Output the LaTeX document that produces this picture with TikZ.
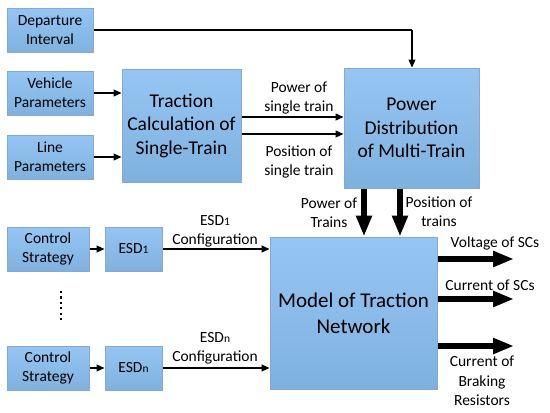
\documentclass[tikz,border=0pt]{standalone}
\usepackage{fontspec}
\setmainfont{Carlito}
\usetikzlibrary{arrows.meta}
\definecolor{boxtop}{HTML}{95C5F3}
\definecolor{boxbot}{HTML}{7FB1DF}
\definecolor{boxline}{HTML}{86A8D3}
\newcommand{\smallfont}{\fontsize{15.5}{19}\selectfont}
\newcommand{\bigfont}{\fontsize{19.5}{23.5}\selectfont}
\newcommand{\hugefont}{\fontsize{21}{26}\selectfont}
\newcommand{\subn}[1]{{\fontsize{11.5}{12}\selectfont #1}}
\tikzset{
  blockbox/.style={draw=boxline, line width=1pt, top color=boxtop, bottom color=boxbot,
    align=center, inner sep=0pt, font=\smallfont},
  thin arrow/.style={line width=1.1pt, -{Triangle[width=7pt,length=8pt]}},
  thick arrow/.style={line width=5.5pt, -{Triangle[width=15pt,length=21pt]}},
  lbl/.style={align=center, font=\smallfont, inner sep=0pt},
}
\begin{document}
\begin{tikzpicture}[x=1pt,y=-1pt]
\useasboundingbox (0,0) rectangle (550,413);
% boxes
\node[blockbox, minimum width=86pt, minimum height=44pt] (dep) at (50,30) {Departure\\Interval};
\node[blockbox, minimum width=86pt, minimum height=44pt] (veh) at (50,93) {Vehicle\\Parameters};
\node[blockbox, minimum width=86pt, minimum height=44pt] (lin) at (50,157) {Line\\Parameters};
\node[blockbox, minimum width=119pt, minimum height=113pt, font=\bigfont] (trac) at (181.5,125.5) {Traction\\Calculation of\\Single-Train};
\node[blockbox, minimum width=135pt, minimum height=120pt, font=\bigfont] (pdist) at (411.5,128) {Power\\Distribution\\of Multi-Train};
\node[blockbox, minimum width=82pt, minimum height=44pt] (cs1) at (48,249) {Control\\Strategy};
\node[blockbox, minimum width=57pt, minimum height=44pt] (esd1) at (133.5,249) {ESD\subn{1}};
\node[blockbox, minimum width=82pt, minimum height=44pt] (csn) at (48,368) {Control\\Strategy};
\node[blockbox, minimum width=57pt, minimum height=44pt] (esdn) at (133.5,368) {ESD\subn{n}};
\node[blockbox, minimum width=167pt, minimum height=152pt, font=\hugefont] (model) at (353.5,313) {Model of Traction\\Network};
% departure line
\coordinate (bend) at (412,30);
\draw[line width=1.1pt] (dep.east) -- (bend);
\draw[thin arrow] (bend) -- (bend |- pdist.north);
% inputs to traction
\draw[thin arrow] (veh.east) -- (veh.east -| trac.west);
\draw[thin arrow] (lin.east) -- (lin.east -| trac.west);
% traction to power distribution
\draw[thin arrow] (trac.east |- 0,117) -- (pdist.west |- 0,117);
\draw[thin arrow] (trac.east |- 0,134) -- (pdist.west |- 0,134);
\node[lbl] (l1) at (299,98) {Power of\\single train};
\node[lbl] (l2) at (299,162) {Position of\\single train};
% thick down arrows
\draw[thick arrow] (pdist.south -| 364,0) -- (model.north -| 364,0);
\draw[thick arrow] (pdist.south -| 400,0) -- (model.north -| 400,0);
\node[lbl] (l3) at (329,213) {Power of\\Trains};
\node[lbl] (l4) at (439,212) {Position of\\trains};
% ESD branches
\draw[thin arrow] (cs1.east) -- (esd1.west);
\draw[thin arrow] (esd1.east) -- (esd1.east -| model.west);
\node[lbl] (l5) at (215,231) {ESD\subn{1}\\Configuration};
\draw[thin arrow] (csn.east) -- (esdn.west);
\draw[thin arrow] (esdn.east) -- (esdn.east -| model.west);
\node[lbl] (l6) at (215,348.5) {ESD\subn{n}\\Configuration};
% dots
\foreach \i in {0,...,5} {
  \fill (60,{291+\i*5.4}) rectangle (62.2,{293.2+\i*5.4});
}
% outputs
\coordinate (o1) at (514,259);
\coordinate (o2) at (514,299);
\coordinate (o3) at (514,346);
\draw[thick arrow] (model.east |- o1) -- (o1);
\draw[thick arrow] (model.east |- o2) -- (o2);
\draw[thick arrow] (model.east |- o3) -- (o3);
\node[lbl] (l7) at (495,243) {Voltage of SCs};
\node[lbl] (l8) at (490,285) {Current of SCs};
\node[lbl, font=\fontsize{15.5}{19.5}\selectfont] (l9) at (482,381) {Current of\\Braking\\Resistors};
\end{tikzpicture}
\end{document}
